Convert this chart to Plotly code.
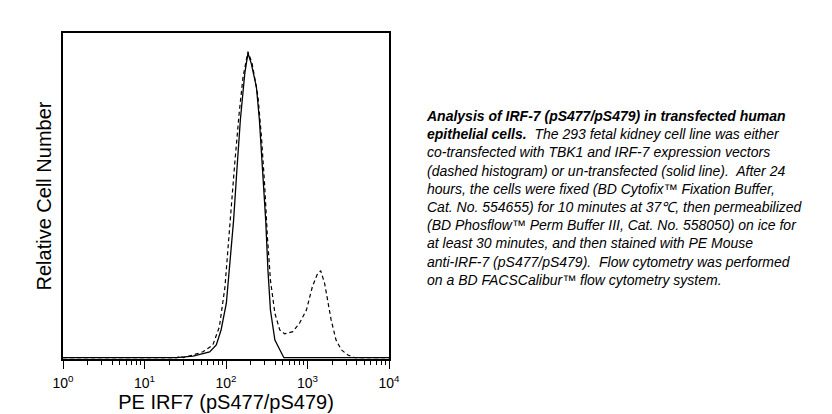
import plotly.graph_objects as go

# PE IRF7 intensity (x) and relative cell number (y)
solid_x = [1, 24.5, 39.4, 63, 76, 87, 101, 111, 124, 136, 150, 170, 186, 204,
           236, 257, 282, 307, 327, 351, 398, 457, 513, 10000]
solid_y = [0.4, 0.4, 0.9, 2.2, 4.3, 8.9, 17.1, 29.4, 42.6, 58, 73.3, 87.6, 93.8, 90.7,
           83.5, 73.3, 58, 42.6, 27.3, 15, 5.8, 2.8, 0.4, 0.4]

dashed_x = [1, 25, 27.5, 30, 39, 52, 69, 83, 97, 106, 116, 128, 145, 162, 186, 209,
            247, 272, 299, 322, 351, 398, 457, 525, 661, 794, 970, 1148, 1309, 1452,
            1622, 1778, 1950, 2239, 2606, 3141, 3802, 10000]
dashed_y = [0.4, 0.4, 0.9, 0.4, 1.2, 2.2, 4.3, 9.9, 22, 34.5, 45.7, 60, 75.4, 86.6, 94.3, 90.7,
            80.5, 68.2, 52.8, 37.5, 24.2, 14, 8.9, 7.7, 8.4, 10.9, 15, 22.2, 25.8, 27.1,
            23.2, 18.1, 12, 5.8, 2.8, 1.2, 0.4, 0.4]

tick_vals = [1, 10, 100, 1000, 10000]
tick_text = ["10<sup>0</sup>", "10<sup>1</sup>", "10<sup>2</sup>", "10<sup>3</sup>", "10<sup>4</sup>"]
minor_vals = [m * d for d in [1, 10, 100, 1000] for m in range(2, 10)]

caption_lines = [
    "<b><i>Analysis of IRF-7 (pS477/pS479) in transfected human</i></b>",
    "<b><i>epithelial cells.</i></b><i>  The 293 fetal kidney cell line was either</i>",
    "<i>co-transfected with TBK1 and IRF-7 expression vectors</i>",
    "<i>(dashed histogram) or un-transfected (solid line).  After 24</i>",
    "<i>hours, the cells were fixed (BD Cytofix™ Fixation Buffer,</i>",
    "<i>Cat. No. 554655) for 10 minutes at 37℃, then permeabilized</i>",
    "<i>(BD Phosflow™ Perm Buffer III, Cat. No. 558050) on ice for</i>",
    "<i>at least 30 minutes, and then stained with PE Mouse</i>",
    "<i>anti-IRF-7 (pS477/pS479).  Flow cytometry was performed</i>",
    "<i>on a BD FACSCalibur™ flow cytometry system.</i>",
]

FONT = "Liberation Sans, Arial, sans-serif"

fig = go.Figure()
fig.add_trace(go.Scatter(x=dashed_x, y=dashed_y, mode="lines",
                         line=dict(color="black", width=1.2, dash="4px,3px")))
fig.add_trace(go.Scatter(x=solid_x, y=solid_y, mode="lines",
                         line=dict(color="black", width=1.3)))

# the page body adds an 8px margin, so the figure is 8px smaller on each side
fig.update_layout(
    width=824, height=406,
    margin=dict(l=55, r=443, t=25, b=55),
    paper_bgcolor="white", plot_bgcolor="white",
    showlegend=False,
    font=dict(family=FONT, color="black"),
)
fig.update_xaxes(
    type="log", range=[0, 4], automargin=False,
    tickvals=tick_vals, ticktext=tick_text,
    ticks="outside", ticklen=8, tickwidth=1, tickcolor="black",
    tickfont=dict(size=14, family=FONT), ticklabelstandoff=2,
    minor=dict(tickvals=minor_vals, ticks="outside", ticklen=4, tickwidth=1,
               tickcolor="black", showgrid=False),
    showline=True, linecolor="black", linewidth=1.6, mirror=True,
    showgrid=False, zeroline=False,
    title=dict(text="PE IRF7 (pS477/pS479)", font=dict(size=20, family=FONT), standoff=4),
)
fig.update_yaxes(
    range=[0, 100], showticklabels=False, ticks="", automargin=False,
    showline=True, linecolor="black", linewidth=1.6, mirror=True,
    showgrid=False, zeroline=False,
    title=dict(text="Relative Cell Number", font=dict(size=20, family=FONT), standoff=4),
)

fig.add_annotation(
    xref="paper", yref="paper", x=1.108, y=0.775,
    xanchor="left", yanchor="top", align="left", showarrow=False,
    text="<br>".join(caption_lines),
    font=dict(size=14, family=FONT, color="black"),
)

fig.write_html("out.html")
